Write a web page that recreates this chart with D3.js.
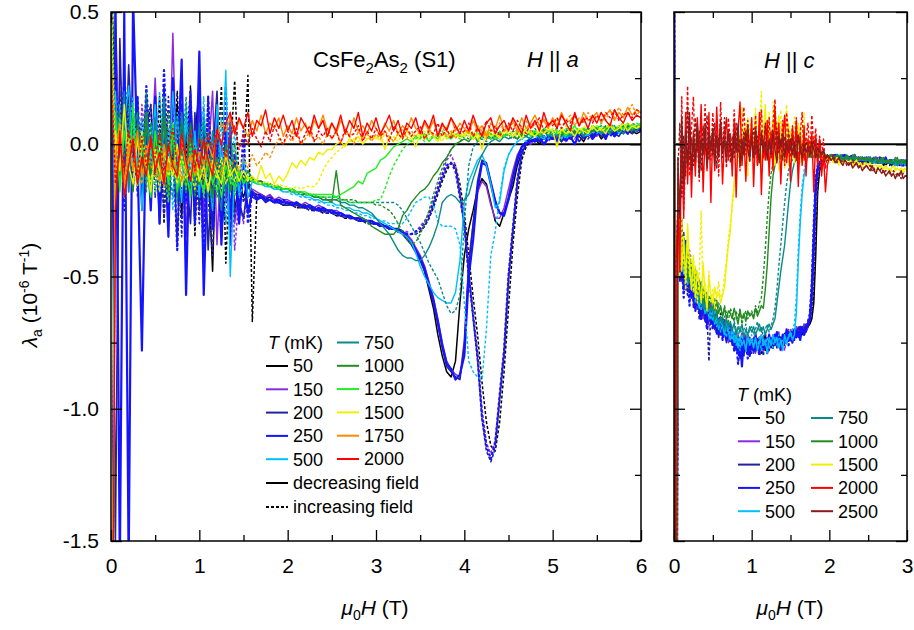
<!DOCTYPE html>
<html><head><meta charset="utf-8">
<script src="https://cdn.jsdelivr.net/npm/d3@7"></script>
<style>
body{margin:0;background:#fff;}
svg text{font-family:"Liberation Sans",Arial,sans-serif;fill:#000;}
</style></head><body>
<svg id="chart" width="914" height="630"></svg>
<script>
// ---------------- DATA ----------------
// lambda_a values in units of 0.01 x 10^-6 T^-1
// H||a panel: sampled every 0.05 T from 0 to 6 T (10 values per row = 0.5 T)
const TEMPS_A = ["50","150","200","250","500","750","1000","1250","1500","1750","2000"];
const TEMPS_C = ["50","150","200","250","500","750","1000","1500","2000","2500"];
const STEP_A = 0.05;
const STEP_C = 0.025;
const X_TICKS_A = [0,1,2,3,4,5,6];
const X_MINOR_A = [0.5,1.5,2.5,3.5,4.5,5.5];
const X_TICKS_C = [0,1,2,3];
const X_MINOR_C = [0.5,1.5,2.5];
const Y_TICKS = [-1.5,-1.0,-0.5,0.0,0.5];
const Y_TICK_LABELS = ["-1.5","-1.0","-0.5","0.0","0.5"];
const Y_MINOR = [-1.25,-0.75,-0.25,0.25];

const a50d = [
80,-20,15,-5,20,-15,8,-12,18,-8,
5,-20,12,-15,-5,15,-28,8,-18,2,
22,-15,-8,-48,10,-35,-12,5,-25,-15,
-20,-14,-18,-19,-19,-20,-20,-21,-21,-22,
-22,-22,-23,-23,-23,-24,-24,-25,-25,-25,
-25,-26,-26,-27,-27,-28,-28,-28,-29,-29,
-30,-30,-31,-31,-32,-32,-33,-35,-37,-40,
-43,-48,-55,-62,-72,-80,-86,-88,-82,-60,
-42,-32,-25,-17,-13,-15,-22,-29,-31,-26,
-21,-16,-8,-3,0,1,2,0,3,2,
2,4,1,3,2,4,3,1,4,3,
5,2,4,6,3,5,4,6,5,4,
5];
const a50i = [
90,-25,10,-15,20,-5,12,-22,5,15,
-12,18,-30,5,-8,20,-20,-5,22,-35,
10,-25,18,-30,-10,22,-45,-5,24,-15,
-10,26,-67,-20,-20,-21,-21,-22,-22,-23,
-23,-23,-24,-24,-24,-25,-25,-25,-26,-26,
-26,-27,-27,-28,-28,-28,-29,-29,-30,-30,
-30,-31,-31,-32,-32,-33,-33,-34,-34,-34,
-33,-31,-28,-24,-19,-14,-10,-7,-8,-15,
-26,-42,-58,-72,-90,-105,-114,-116,-105,-86,
-62,-38,-20,-6,-1,1,2,1,2,3,
2,3,4,2,3,4,3,5,3,4,
5,4,6,5,4,6,5,6,5,6,
6];
const a150d = [
-300,50,-10,22,-18,12,5,-20,15,-10,
25,-15,6,-25,42,-20,10,-35,5,-22,
15,-28,-5,20,-38,0,-22,10,-30,-18,
-12,-20,-17,-18,-19,-20,-19,-21,-20,-21,
-21,-22,-22,-23,-22,-23,-24,-23,-24,-25,
-25,-25,-26,-27,-27,-28,-28,-28,-29,-29,
-30,-30,-31,-31,-32,-32,-33,-34,-36,-39,
-42,-46,-52,-58,-66,-75,-82,-85,-87,-88,
-74,-44,-30,-18,-14,-16,-23,-28,-28,-24,
-17,-10,-4,-1,1,0,2,1,3,2,
3,2,4,1,3,3,5,2,4,4,
3,6,4,5,3,6,5,7,4,6,
6];
const a150i = [
-300,18,-8,26,-12,10,-20,15,0,-18,
20,-10,5,-30,14,-18,8,-25,18,-10,
-5,-32,12,-22,0,-28,-8,12,-40,-20,
-30,-15,-18,-19,-20,-20,-21,-21,-22,-22,
-22,-23,-23,-24,-23,-24,-25,-25,-25,-26,
-26,-26,-27,-27,-28,-28,-29,-29,-29,-30,
-30,-30,-31,-31,-32,-32,-33,-33,-34,-33,
-31,-29,-26,-21,-16,-11,-6,-4,-8,-18,
-30,-48,-64,-80,-100,-113,-117,-112,-94,-77,
-49,-31,-13,-3,0,1,1,2,3,1,
3,4,2,3,4,2,5,3,4,5,
4,5,6,4,5,7,5,6,4,6,
7];
const a200d = [
60,-150,40,-20,30,-10,18,-25,8,-15,
10,-30,22,-20,5,-38,15,-10,-30,12,
-25,8,-40,-5,20,-30,-8,-35,-12,-22,
-28,-15,-20,-21,-20,-22,-21,-22,-22,-23,
-23,-22,-23,-24,-23,-24,-25,-24,-25,-25,
-26,-26,-27,-27,-28,-28,-29,-29,-29,-30,
-30,-31,-31,-32,-32,-33,-34,-36,-38,-41,
-44,-48,-54,-60,-68,-77,-84,-86,-88,-89,
-76,-46,-30,-14,-6,-7,-14,-21,-26,-26,
-20,-12,-5,-1,0,2,1,2,0,3,
2,3,1,4,2,4,1,3,4,3,
5,3,4,6,4,3,6,5,4,6,
5];
const a200i = [
70,-15,20,-25,12,0,-18,10,-8,15,
-20,8,-28,18,-12,5,-35,12,-15,-2,
-30,14,-20,-42,8,-18,-30,2,-28,-12,
-22,-16,-19,-20,-20,-21,-21,-22,-22,-23,
-22,-23,-24,-23,-24,-25,-24,-25,-26,-25,
-26,-27,-27,-28,-27,-28,-29,-29,-30,-30,
-30,-31,-31,-32,-32,-33,-33,-34,-34,-34,
-33,-31,-28,-23,-18,-13,-9,-7,-9,-19,
-31,-49,-66,-82,-104,-116,-120,-115,-97,-80,
-52,-33,-15,-4,0,1,2,1,2,3,
3,2,4,2,3,5,3,4,2,4,
4,6,3,5,4,6,5,4,6,5,
6];
const a250d = [
-300,55,-160,50,-160,55,-5,-78,12,-25,
18,-30,8,-35,25,-12,32,-57,15,-28,
35,-57,2,-32,12,-38,6,-28,-4,-30,
-8,-26,-18,-21,-20,-21,-21,-22,-21,-22,
-22,-23,-22,-23,-24,-23,-24,-25,-24,-25,
-25,-26,-26,-27,-27,-28,-28,-29,-29,-29,
-30,-30,-31,-31,-32,-32,-33,-35,-37,-40,
-43,-47,-53,-59,-67,-76,-83,-85,-89,-87,
-80,-50,-36,-17,-7,-8,-15,-22,-26,-27,
-21,-13,-6,-1,1,2,1,3,0,2,
3,1,4,2,3,0,4,3,5,2,
4,5,2,6,3,5,6,4,7,5,
6];
const a250i = [
-300,28,-12,25,5,-15,18,-20,22,-5,
12,-25,28,-10,3,-40,15,-22,20,-30,
8,-45,18,-20,5,-35,22,-38,-10,-25,
5,-30,-18,-20,-19,-21,-20,-21,-22,-21,
-22,-23,-22,-23,-24,-24,-25,-24,-25,-26,
-26,-26,-27,-27,-28,-28,-28,-29,-29,-30,
-30,-31,-31,-32,-32,-33,-33,-34,-34,-33,
-32,-30,-27,-22,-17,-12,-8,-7,-10,-20,
-30,-50,-65,-80,-103,-114,-119,-113,-95,-78,
-50,-32,-14,-3,0,1,2,1,3,2,
2,4,3,1,4,3,5,2,4,3,
5,4,6,3,5,6,4,7,5,6,
6];
const a500d = [
-300,20,-15,8,22,-10,5,-25,12,-5,
15,-18,8,-12,20,-5,-22,10,-15,5,
-20,12,-8,-25,15,-10,28,-50,-8,-18,
-5,-20,-14,-15,-15,-16,-16,-17,-17,-18,
-18,-18,-19,-19,-20,-20,-21,-21,-22,-22,
-22,-23,-23,-24,-24,-25,-25,-26,-26,-27,
-28,-29,-30,-31,-32,-33,-34,-35,-37,-41,
-46,-50,-53,-56,-58,-59,-60,-60,-56,-44,
-22,-14,-10,-6,-4,-8,-15,-24,-22,-10,
-4,-1,1,2,3,2,4,3,2,4,
3,4,2,5,3,4,5,3,4,6,
5,4,6,5,7,4,6,5,7,6,
7];
const a500i = [
50,-10,15,-20,5,18,-8,10,-15,8,
-5,20,-12,6,-25,12,-8,15,-20,2,
-10,18,-22,5,-15,10,-30,-12,5,-20,
-15,-10,-14,-15,-15,-16,-16,-17,-17,-18,
-18,-19,-19,-20,-20,-21,-21,-22,-22,-23,
-23,-24,-24,-25,-25,-26,-26,-27,-27,-28,
-28,-29,-29,-30,-30,-30,-30,-28,-25,-22,
-21,-20,-20,-23,-29,-31,-31,-31,-32,-38,
-60,-82,-86,-88,-89,-70,-42,-33,-20,-9,
-4,-1,1,2,1,3,2,4,3,2,
4,3,5,2,4,3,5,4,3,5,
4,6,5,4,6,5,7,5,6,6,
7];
const a750d = [
-300,15,-10,20,-18,5,12,-15,8,-20,
10,-8,18,-15,5,-22,12,-10,2,-18,
8,-12,-20,5,-15,-25,0,-18,-10,-14,
-12,-15,-13,-14,-14,-15,-15,-16,-16,-17,
-17,-17,-18,-18,-19,-19,-20,-20,-21,-21,
-21,-21,-22,-22,-23,-23,-24,-24,-25,-26,
-28,-30,-32,-34,-37,-40,-42,-43,-43,-44,
-44,-42,-39,-35,-30,-22,-20,-19,-20,-22,
-21,-19,-13,-8,-4,-1,1,2,1,3,
2,3,2,4,3,2,4,3,5,3,
4,3,5,4,3,5,4,6,4,5,
6,4,5,7,5,6,4,7,6,5,
7];
const a750i = [
40,-20,10,-5,15,-18,8,-10,20,-12,
5,-15,12,-8,-20,10,-5,18,-12,-2,
-15,10,-8,-22,5,-12,-18,8,-20,-10,
-15,-12,-14,-14,-15,-15,-16,-16,-17,-17,
-17,-18,-18,-18,-19,-19,-19,-20,-20,-20,
-20,-20,-21,-21,-22,-22,-22,-22,-22,-22,
-22,-22,-22,-22,-22,-23,-25,-28,-31,-34,
-37,-41,-45,-48,-51,-56,-61,-64,-63,-57,
-30,-8,-1,1,2,1,3,2,3,4,
3,2,4,3,5,3,4,2,4,5,
3,5,4,6,3,5,4,5,6,4,
6,5,4,6,7,5,6,5,7,6,
7];
const a1000d = [
-300,10,-12,15,-5,-18,8,-10,12,-15,
0,-8,10,-20,5,-12,-2,-18,8,-10,
-15,2,-10,-20,-5,-14,0,-18,-8,-12,
-14,-10,-13,-14,-14,-15,-15,-16,-16,-17,
-17,-17,-18,-18,-19,-19,-20,-20,-21,-21,
-22,-10,-23,-24,-25,-26,-27,-28,-29,-31,
-32,-33,-34,-34,-34,-32,-27,-25,-22,-20,
-18,-17,-15,-12,-10,-7,-5,-2,0,1,
2,1,3,2,3,4,2,3,4,3,
4,3,2,4,3,5,4,3,5,4,
5,4,3,5,6,4,5,3,6,5,
6,5,7,4,6,5,7,6,5,7,
7];
const a1000i = [
60,-8,12,-15,5,10,-12,3,-18,8,
-10,5,-15,12,-5,-18,8,-12,2,-20,
-8,-15,5,-12,-20,-6,-10,-16,0,-14,
-12,-13,-13,-14,-14,-15,-15,-16,-16,-17,
-17,-18,-18,-19,-19,-19,-20,-20,-20,-21,
-21,-21,-21,-21,-21,-21,-22,-22,-22,-22,
-23,-23,-24,-25,-27,-30,-33,-36,-38,-37,
-34,-30,-25,-19,-14,-9,-5,-2,0,1,
3,2,4,1,3,2,4,3,2,4,
3,5,4,3,5,4,6,3,5,4,
5,6,4,5,7,5,4,6,5,7,
6,7,5,8,6,7,6,5,8,7,
7];
const a1250d = [
-300,12,-18,5,-10,15,-15,0,-8,-20,
5,-12,-3,-15,8,-18,-6,-10,-20,-4,
-12,-18,-6,-15,-10,-20,-8,-14,-16,-10,
-15,-12,-14,-14,-15,-15,-15,-16,-16,-17,
-17,-17,-18,-18,-18,-19,-19,-19,-19,-19,
-19,-20,-19,-18,-17,-16,-14,-15,-11,-10,
-9,-6,-5,-3,-1,0,1,2,1,3,
2,4,1,3,2,4,3,2,4,3,
3,5,2,4,3,5,4,2,5,3,
4,3,5,4,6,3,5,4,6,5,
5,4,6,3,5,7,4,6,5,6,
7,5,6,8,5,7,6,8,6,7,
8];
const a1250i = [
70,-5,10,-20,0,8,-15,5,-12,-3,
-18,2,-10,-22,6,-14,-5,-17,0,-12,
-8,-20,-4,-13,-18,-9,-15,-6,-19,-11,
-14,-13,-14,-15,-15,-15,-16,-16,-17,-17,
-17,-18,-18,-18,-19,-19,-19,-20,-20,-20,
-20,-20,-21,-21,-22,-22,-22,-22,-22,-22,
-21,-21,-17,-12,-8,-5,-2,0,1,2,
3,1,4,2,3,5,2,4,3,2,
4,3,2,5,3,4,2,5,4,3,
5,4,3,5,6,4,5,3,6,4,
6,5,4,6,5,7,5,6,4,7,
6,8,5,7,6,7,8,6,7,8,
7];
const a1500d = [
-300,5,-10,15,-8,-15,2,-12,-5,-18,
-2,-10,-15,-5,-12,0,-16,-8,-12,-3,
-14,-8,-18,-6,-11,-15,-4,-12,-9,-14,
-10,-13,-12,-14,-8,-13,-11,-15,-12,-14,
-11,-7,-9,-6,-8,-5,-6,-3,-4,-2,
-2,0,1,-1,2,1,3,0,2,3,
2,4,-2,3,1,4,2,5,3,-1,
4,2,5,3,1,4,2,5,3,4,
3,5,2,4,-2,5,3,4,2,5,
4,3,5,2,6,4,3,5,4,6,
5,-1,6,4,5,3,6,5,4,7,
5,6,4,7,5,6,8,5,7,6,
7];
const a1500i = [
60,-12,8,-18,2,-10,-16,5,-8,-14,
-6,-18,-2,-12,-8,-15,-4,-13,-10,-17,
-7,-12,-16,-9,-13,-5,-15,-10,-14,-8,
-12,-14,-13,-14,-15,-14,-15,-16,-15,-16,
-16,-17,-16,-17,-16,-16,-16,-14,-10,-7,
-5,-3,-2,0,1,2,1,3,2,2,
3,1,4,2,3,1,4,3,2,4,
3,5,2,4,3,1,5,3,4,2,
4,3,5,2,4,3,5,4,3,5,
5,4,3,6,4,5,3,6,5,4,
6,4,5,7,5,6,4,7,5,6,
7,5,6,8,6,7,5,8,7,6,
8];
const a1750d = [
-300,-5,8,-15,0,-10,5,-12,-3,2,
-8,-14,0,-10,-6,-13,2,-9,-4,-11,
-3,-8,0,-5,3,8,5,10,4,9,
6,3,9,5,11,4,8,6,10,3,
7,4,10,5,8,3,9,6,11,5,
8,4,9,6,3,10,5,7,4,9,
6,3,8,5,9,4,7,5,10,6,
4,8,5,9,3,7,6,10,5,8,
6,4,9,5,7,3,8,6,11,5,
7,9,5,10,6,8,11,7,9,6,
10,7,12,8,9,11,7,12,9,10,
12,8,11,13,9,12,10,14,11,13,
12];
const a1750i = [
40,-12,5,-18,-5,3,-10,-15,0,-8,
-12,-4,-16,-7,-10,-2,-14,-9,-5,-12,
-8,-13,-4,-10,-7,-12,-3,-9,-6,-10,
-5,-9,-4,-8,-6,-3,-5,-1,2,0,
3,1,4,0,2,5,1,3,0,4,
2,5,1,4,3,0,5,2,4,1,
4,2,5,3,1,4,6,2,5,3,
5,2,6,3,4,7,3,5,2,6,
4,6,3,7,5,2,6,4,8,5,
6,8,4,7,9,5,8,6,10,7,
8,10,6,9,11,7,10,8,12,9,
10,12,9,13,10,14,11,12,15,11,
13];
const a2000d = [
-300,-25,5,-20,-8,2,-15,-5,-12,3,
-10,-3,-15,0,-8,-12,4,-6,-14,-2,
-9,2,-6,-12,5,0,8,12,4,10,
6,12,3,9,7,13,4,10,6,11,
5,9,3,10,7,4,11,6,9,3,
8,5,11,4,9,6,12,3,8,5,
10,4,7,11,5,9,3,8,6,10,
4,9,6,11,3,8,5,10,7,4,
9,5,11,6,3,8,10,4,7,9,
5,10,7,4,11,6,9,5,12,7,
9,6,11,8,5,12,7,10,6,11,
8,12,9,7,13,10,8,12,9,11,
10];
const a2000i = [
30,-15,0,-10,5,-5,-12,3,-8,0,
-5,4,-10,-2,6,-8,0,-4,5,-10,
2,-6,4,-3,6,0,-5,3,7,-2,
4,0,6,2,-1,5,1,7,3,0,
5,2,6,0,4,7,1,5,3,6,
2,5,0,6,3,4,7,1,5,2,
6,3,5,1,7,4,2,6,3,5,
7,2,5,4,8,3,6,2,7,4,
5,8,3,6,4,9,5,7,3,6,
8,5,9,6,4,8,7,10,5,8,
7,10,6,9,8,11,7,9,10,8,
11,9,12,10,13,9,11,12,10,13,
12];

// H||c panel: sampled every 0.025 T from 0 to 3 T (10 values per row = 0.25 T)
const c50d = [
100,-300,-36,-44,-50,-40,-53,-47,-56,-50,
-58,-54,-61,-57,-63,-59,-65,-61,-66,-63,
-67,-65,-69,-66,-71,-68,-72,-70,-73,-71,
-74,-72,-76,-73,-75,-78,-73,-77,-75,-79,
-76,-74,-78,-75,-77,-74,-76,-78,-75,-77,
-74,-76,-73,-75,-72,-74,-73,-75,-72,-74,
-73,-71,-73,-70,-72,-71,-72,-70,-71,-69,
-68,-66,-60,-42,-18,-10,-8,-7,-6,-6,
-6,-5,-6,-6,-5,-6,-6,-5,-6,-6,
-6,-6,-5,-6,-7,-6,-6,-7,-6,-6,
-7,-6,-7,-7,-6,-7,-7,-6,-7,-8,
-7,-7,-8,-7,-7,-8,-7,-8,-8,-7,
-8];
const c50i = [
100,-300,-42,-35,-52,-44,-38,-57,-46,-53,
-55,-60,-52,-64,-58,-62,-56,-66,-60,-64,
-63,-68,-65,-70,-64,-72,-68,-70,-74,-69,
-72,-75,-70,-77,-73,-76,-80,-74,-77,-73,
-78,-75,-73,-77,-74,-79,-75,-72,-77,-76,
-73,-77,-74,-72,-76,-73,-75,-71,-74,-73,
-71,-74,-70,-72,-69,-72,-70,-71,-68,-69,
-67,-64,-56,-35,-15,-9,-7,-6,-6,-5,
-5,-6,-5,-5,-6,-5,-6,-6,-5,-6,
-6,-5,-6,-6,-5,-7,-6,-6,-7,-6,
-6,-7,-6,-7,-7,-6,-7,-7,-8,-7,
-7,-8,-7,-7,-8,-7,-8,-7,-8,-8,
-8];
const c150d = [
100,-300,-28,-45,-38,-50,-43,-48,-55,-47,
-60,-52,-58,-63,-55,-66,-60,-62,-67,-60,
-69,-64,-67,-71,-66,-73,-68,-70,-75,-68,
-72,-77,-71,-75,-80,-73,-76,-72,-78,-74,
-77,-73,-79,-74,-76,-72,-78,-75,-73,-77,
-75,-72,-76,-74,-71,-78,-73,-75,-72,-70,
-74,-71,-73,-69,-72,-70,-71,-68,-70,-67,
-65,-58,-38,-16,-9,-7,-6,-6,-5,-5,
-5,-5,-6,-5,-4,-6,-5,-6,-5,-5,
-6,-5,-5,-6,-6,-5,-7,-6,-5,-6,
-6,-6,-7,-5,-7,-6,-6,-7,-6,-7,
-7,-6,-7,-8,-6,-7,-7,-8,-7,-7,
-7];
const c150i = [
100,-300,-40,-30,-48,-36,-52,-45,-40,-56,
-50,-57,-63,-54,-60,-65,-58,-62,-69,-61,
-66,-70,-63,-68,-72,-66,-70,-67,-73,-71,
-70,-74,-78,-72,-75,-71,-77,-74,-79,-73,
-75,-78,-74,-76,-73,-77,-79,-74,-76,-73,
-76,-74,-72,-75,-77,-73,-74,-78,-72,-74,
-70,-73,-71,-72,-69,-71,-70,-68,-71,-69,
-66,-62,-48,-26,-12,-8,-7,-6,-5,-5,
-6,-5,-5,-6,-4,-5,-6,-5,-5,-6,
-5,-6,-5,-7,-6,-5,-6,-6,-5,-7,
-6,-7,-6,-6,-7,-5,-7,-6,-7,-6,
-7,-7,-6,-8,-7,-7,-6,-8,-7,-8,
-7];
const c200d = [
100,-300,-33,-50,-42,-37,-55,-46,-51,-58,
-52,-60,-56,-64,-58,-61,-67,-59,-64,-68,
-65,-70,-67,-73,-68,-71,-69,-75,-70,-72,
-76,-72,-78,-74,-81,-73,-77,-75,-79,-76,
-74,-79,-75,-77,-73,-78,-76,-74,-78,-75,
-77,-74,-76,-72,-75,-73,-76,-72,-74,-71,
-73,-70,-72,-71,-73,-69,-71,-70,-68,-69,
-66,-56,-36,-15,-9,-7,-6,-5,-5,-5,
-5,-5,-4,-6,-5,-5,-6,-4,-5,-6,
-6,-5,-5,-6,-5,-6,-6,-5,-7,-6,
-6,-7,-6,-5,-6,-7,-6,-7,-6,-6,
-7,-6,-7,-7,-8,-6,-7,-7,-8,-6,
-7];
const c200i = [
100,-300,-45,-38,-52,-33,-48,-57,-42,-50,
-62,-55,-58,-66,-60,-63,-57,-65,-82,-62,
-67,-69,-64,-71,-68,-73,-66,-70,-72,-68,
-74,-71,-77,-73,-76,-80,-72,-78,-74,-77,
-79,-74,-77,-73,-78,-75,-80,-74,-76,-78,
-73,-76,-74,-77,-72,-75,-73,-76,-71,-73,
-72,-74,-70,-72,-69,-73,-70,-71,-69,-68,
-67,-60,-42,-20,-10,-7,-6,-6,-5,-5,
-5,-6,-5,-4,-5,-6,-5,-5,-6,-5,
-5,-6,-6,-5,-6,-5,-6,-7,-6,-5,
-6,-6,-7,-6,-6,-7,-5,-6,-7,-7,
-6,-7,-8,-7,-6,-7,-8,-7,-7,-8,
-7];
const c250d = [
100,-300,-30,-48,-35,-55,-40,-52,-45,-58,
-50,-62,-55,-60,-66,-57,-63,-68,-61,-65,
-68,-64,-70,-67,-72,-66,-71,-74,-69,-73,
-71,-76,-73,-79,-74,-84,-72,-77,-75,-80,
-74,-78,-72,-76,-79,-73,-77,-75,-78,-72,
-76,-73,-75,-71,-74,-77,-72,-75,-70,-74,
-72,-75,-70,-73,-71,-74,-69,-72,-70,-68,
-66,-55,-35,-15,-9,-7,-6,-6,-5,-5,
-5,-4,-5,-6,-4,-5,-6,-5,-4,-6,
-5,-6,-5,-4,-6,-5,-7,-5,-6,-5,
-6,-5,-7,-6,-5,-7,-6,-6,-7,-5,
-7,-6,-6,-8,-6,-7,-7,-6,-8,-7,
-7];
const c250i = [
100,-300,-38,-52,-44,-58,-36,-50,-61,-47,
-55,-63,-58,-52,-66,-60,-64,-70,-59,-66,
-70,-66,-72,-68,-65,-74,-70,-73,-68,-75,
-72,-78,-74,-83,-76,-73,-79,-75,-81,-74,
-77,-73,-78,-76,-80,-74,-77,-72,-79,-75,
-74,-77,-72,-76,-74,-78,-73,-75,-72,-76,
-73,-71,-74,-70,-72,-69,-71,-72,-69,-67,
-64,-52,-30,-13,-8,-7,-6,-5,-5,-5,
-4,-5,-5,-4,-6,-5,-4,-5,-6,-5,
-5,-4,-6,-5,-5,-6,-5,-6,-5,-6,
-5,-6,-6,-5,-7,-6,-5,-7,-6,-6,
-6,-7,-7,-6,-7,-6,-8,-7,-6,-7,
-7];
const c500d = [
100,-300,-30,-42,-36,-49,-40,-53,-46,-50,
-55,-49,-58,-62,-54,-60,-64,-57,-62,-66,
-63,-68,-65,-70,-66,-69,-72,-67,-71,-74,
-70,-75,-72,-77,-73,-76,-74,-78,-72,-76,
-74,-77,-73,-78,-75,-72,-76,-74,-79,-73,
-76,-72,-75,-73,-77,-74,-78,-72,-75,-73,
-71,-74,-72,-64,-45,-30,-19,-12,-7,-4,
-3,-2,-3,-2,-3,-4,-3,-4,-4,-5,
-5,-4,-5,-5,-4,-6,-5,-5,-6,-5,
-5,-6,-5,-5,-6,-6,-5,-6,-6,-5,
-6,-5,-6,-7,-6,-6,-7,-6,-6,-7,
-6,-7,-7,-6,-7,-8,-7,-7,-6,-8,
-7];
const c500i = [
100,-300,-38,-30,-46,-40,-52,-44,-49,-55,
-48,-60,-53,-57,-63,-56,-61,-59,-66,-62,
-67,-63,-69,-66,-71,-68,-70,-73,-68,-72,
-74,-71,-76,-73,-78,-72,-75,-77,-73,-75,
-72,-76,-74,-77,-73,-78,-74,-76,-73,-77,
-74,-77,-73,-76,-72,-75,-74,-73,-76,-72,
-73,-70,-68,-58,-40,-26,-16,-10,-6,-4,
-3,-4,-3,-2,-4,-3,-4,-5,-4,-5,
-5,-4,-5,-6,-5,-4,-5,-6,-5,-5,
-6,-5,-5,-6,-5,-6,-6,-5,-6,-6,
-5,-6,-7,-6,-6,-7,-6,-7,-6,-7,
-7,-6,-7,-7,-8,-6,-7,-8,-7,-7,
-7];
const c750d = [
100,-300,-35,-28,-45,-38,-50,-42,-47,-55,
-50,-57,-53,-60,-56,-62,-58,-64,-60,-63,
-62,-66,-64,-68,-65,-67,-70,-66,-69,-67,
-70,-68,-72,-69,-71,-68,-73,-70,-72,-69,
-71,-69,-72,-70,-68,-71,-69,-72,-70,-68,
-70,-68,-66,-60,-54,-48,-43,-38,-30,-22,
-15,-10,-7,-6,-5,-5,-4,-5,-4,-4,
-4,-5,-4,-5,-4,-5,-5,-4,-5,-5,
-5,-4,-5,-6,-5,-5,-4,-6,-5,-5,
-6,-5,-5,-6,-6,-5,-6,-5,-6,-6,
-6,-7,-6,-6,-5,-7,-6,-6,-7,-6,
-7,-6,-7,-7,-6,-8,-7,-6,-7,-7,
-7];
const c750i = [
100,-300,-40,-32,-48,-36,-44,-52,-45,-50,
-56,-52,-59,-55,-61,-57,-63,-59,-62,-65,
-64,-67,-63,-69,-66,-68,-65,-70,-67,-69,
-71,-67,-70,-73,-69,-72,-70,-68,-73,-70,
-69,-72,-70,-67,-71,-69,-73,-70,-68,-71,
-69,-66,-62,-55,-46,-38,-30,-22,-15,-10,
-7,-6,-5,-5,-4,-5,-4,-4,-5,-4,
-5,-4,-5,-4,-5,-5,-4,-5,-6,-5,
-5,-6,-5,-5,-4,-6,-5,-6,-5,-6,
-5,-6,-6,-5,-7,-6,-5,-6,-6,-7,
-6,-6,-7,-6,-7,-6,-6,-7,-7,-6,
-7,-7,-6,-8,-7,-7,-8,-6,-7,-8,
-7];
const c1000d = [
100,-300,-32,-40,-28,-46,-38,-51,-44,-48,
-53,-47,-56,-51,-58,-54,-60,-56,-62,-58,
-60,-63,-59,-64,-61,-65,-62,-66,-63,-64,
-66,-62,-65,-68,-63,-66,-64,-67,-63,-65,
-64,-66,-62,-65,-63,-61,-62,-55,-46,-33,
-20,-12,-8,-6,-5,-4,-5,-3,-4,-3,
-4,-3,-4,-5,-3,-4,-5,-4,-3,-5,
-4,-5,-4,-3,-5,-4,-5,-4,-5,-4,
-5,-4,-5,-6,-4,-5,-5,-6,-5,-4,
-5,-6,-5,-4,-6,-5,-6,-5,-6,-5,
-6,-5,-6,-6,-5,-7,-6,-5,-6,-7,
-6,-7,-6,-7,-6,-5,-7,-6,-7,-6,
-6];
const c1000i = [
100,-300,-36,-29,-44,-35,-49,-40,-53,-45,
-50,-55,-48,-57,-52,-59,-55,-61,-57,-60,
-62,-58,-65,-60,-63,-66,-61,-64,-67,-62,
-64,-67,-63,-66,-62,-68,-65,-63,-66,-64,
-63,-65,-61,-64,-60,-58,-50,-40,-28,-18,
-11,-7,-5,8,-4,-6,5,-4,-5,-3,
-4,-5,-3,-4,-6,-3,-4,-5,-4,-3,
-5,-4,-3,-5,-4,-5,-3,-4,-5,-4,
-4,-5,-5,-4,-6,-5,-4,-5,-6,-5,
-6,-5,-4,-6,-5,-6,-5,-6,-5,-6,
-5,-6,-7,-5,-6,-6,-7,-6,-5,-6,
-7,-6,-6,-7,-5,-7,-6,-7,-6,-7,
-6];
const c1500d = [
100,-300,-40,-25,-48,-35,-52,-30,-45,-55,
-42,-58,-48,-53,-60,-45,-56,-62,-50,-57,
-60,-54,-58,-56,-60,-57,-54,-46,-38,-33,
-22,-14,-9,-5,3,-8,6,-2,10,-4,
5,-6,12,-3,8,-10,4,15,-2,6,
-5,9,-8,3,11,-4,7,-9,2,8,
-3,6,-7,4,-2,7,-5,3,-4,2,
-2,3,-4,1,-3,-1,-5,-4,-6,-5,
-6,-5,-7,-6,-5,-7,-6,-7,-6,-7,
-7,-6,-8,-7,-6,-8,-7,-8,-7,-8,
-8,-7,-9,-8,-8,-9,-8,-9,-9,-8,
-9,-10,-9,-8,-10,-9,-10,-9,-10,-9,
-10];
const c1500i = [
100,-300,-35,-50,-28,-44,-55,-38,-50,-42,
-56,-46,-60,-50,-25,-58,-52,-63,-48,-60,
-55,-62,-57,-52,-59,-56,-50,-44,-36,-30,
-24,-16,-10,2,-6,14,-4,8,-12,5,
10,-5,14,-8,4,20,-6,9,-3,12,
-6,16,-2,7,-10,13,-4,6,15,-8,
5,-6,11,-3,8,-7,4,12,-5,2,
-4,5,-3,2,-6,-2,-5,-6,-5,-6,
-7,-6,-5,-7,-6,-8,-6,-7,-7,-6,
-8,-7,-7,-8,-6,-8,-7,-9,-8,-7,
-9,-8,-8,-9,-10,-8,-9,-8,-10,-9,
-10,-9,-10,-11,-9,-10,-10,-9,-11,-10,
-10];
const c2000d = [
-300,-45,-25,-48,5,-28,12,-15,8,-20,
5,-12,10,-5,15,-18,3,-8,12,-22,
6,-10,14,-4,8,-15,2,10,-6,4,
-12,9,-20,5,16,-8,3,-14,7,-4,
10,-16,4,-8,12,-19,2,-6,9,-12,
5,-10,14,-4,8,-15,3,11,-7,2,
-14,6,-5,9,-16,3,-8,7,-12,2,
-5,4,-18,3,-8,2,-12,-4,-18,-8,
-5];
const c2000i = [
-300,-50,-20,-35,18,-25,-5,22,-12,6,
18,-8,4,-14,9,-3,15,-10,2,-6,
12,-5,8,-12,16,-3,6,-9,10,1,
-6,13,-2,8,-10,5,14,-4,9,-7,
6,-3,11,-8,4,13,-5,7,-2,10,
-4,8,17,-6,5,-2,9,-8,12,3,
-5,7,-3,10,-9,4,12,-6,2,8,
-4,11,-2,6,-8,3,-5,2,-9,-4,
-6];
const c2500d = [
100,-300,-5,-28,10,-15,5,-8,12,-10,
3,-6,8,-12,2,-4,7,-9,4,-2,
6,-8,3,-5,9,-3,2,-7,5,-1,
-6,4,-3,7,-8,2,-4,5,-2,-6,
3,-5,6,-2,-7,4,-3,1,-6,2,
-4,5,-2,-7,3,-1,4,-5,1,-3,
2,-4,1,-6,3,-2,-5,0,-3,-1,
-4,1,-2,-5,-1,-3,-4,-2,-5,-4,
-5,-6,-5,-7,-6,-5,-7,-8,-6,-7,
-8,-7,-9,-8,-7,-9,-8,-10,-9,-8,
-9,-10,-8,-10,-11,-9,-10,-11,-10,-12,
-11,-10,-12,-11,-13,-11,-12,-10,-13,-12,
-12];
const c2500i = [
100,-300,-10,8,-20,3,-12,14,-6,2,
-8,10,-3,5,-10,7,-2,11,-6,3,
-4,8,-9,2,6,-5,10,-2,4,-7,
3,-5,8,-3,2,-6,5,-1,7,-4,
2,6,-4,3,-7,5,-2,8,-3,1,
-5,4,-1,6,-3,2,-6,3,-2,5,
-2,3,-5,1,4,-3,0,-4,2,-3,
-1,-4,2,-3,-5,-2,-4,-3,-6,-4,
-5,-6,-4,-6,-7,-5,-6,-7,-6,-8,
-7,-8,-6,-8,-7,-9,-8,-7,-9,-8,
-9,-8,-10,-9,-11,-9,-10,-9,-11,-10,
-10,-11,-12,-10,-11,-12,-11,-13,-11,-12,
-12];

// legend contents
const LEG_A_COL1 = ["50","150","200","250","500"];
const LEG_A_COL2 = ["750","1000","1250","1500","1750","2000"];
const LEG_C_COL1 = ["50","150","200","250","500"];
const LEG_C_COL2 = ["750","1000","1500","2000","2500"];

// series tables built from the arrays
const SERIES_A = [
  ["50",a50i,a50d],["150",a150i,a150d],["200",a200i,a200d],["250",a250i,a250d],
  ["500",a500i,a500d],["750",a750i,a750d],["1000",a1000i,a1000d],["1250",a1250i,a1250d],
  ["1500",a1500i,a1500d],["1750",a1750i,a1750d],["2000",a2000i,a2000d]
];
const SERIES_C = [
  ["50",c50i,c50d],["150",c150i,c150d],["200",c200i,c200d],["250",c250i,c250d],
  ["500",c500i,c500d],["750",c750i,c750d],["1000",c1000i,c1000d],
  ["1500",c1500i,c1500d],["2000",c2000i,c2000d],["2500",c2500i,c2500d]
];

// ---------------- STYLE ----------------
const COLORS = {"50":"#000000","150":"#8a2be2","200":"#23239b","250":"#1414ff","500":"#00bfff",
  "750":"#0a8a8a","1000":"#228b22","1250":"#22ee22","1500":"#f0f000","1750":"#ff8a00",
  "2000":"#ff0000","2500":"#8b1a1a"};
const WIDTHS = {"50":1.5,"150":1.5,"200":1.6,"250":2.2};
const FONT = "Liberation Sans, Arial, sans-serif";

// ---------------- DRAW ----------------
const svg = d3.select("#chart");
svg.append("rect").attr("width",914).attr("height",630).attr("fill","#fff");

const yS = d3.scaleLinear().domain([-1.5,0.5]).range([541,12]);
const xA = d3.scaleLinear().domain([0,6]).range([111,641]);
const xC = d3.scaleLinear().domain([0,3]).range([674,907]);

const defs = svg.append("defs");
function clip(id, xS){
  const [x0,x1] = xS.range(), [yb,yt] = yS.range();
  defs.append("clipPath").attr("id",id).append("rect")
    .attr("x",x0).attr("y",yt).attr("width",x1-x0).attr("height",yb-yt);
}
clip("clipA", xA); clip("clipC", xC);

function drawPanel(xS, series, step, clipId){
  const [x0,x1] = xS.range();
  // zero line
  svg.append("line").attr("x1",x0).attr("x2",x1).attr("y1",yS(0)).attr("y2",yS(0))
    .attr("stroke","#000").attr("stroke-width",2);
  const g = svg.append("g").attr("clip-path",`url(#${clipId})`);
  const line = d3.line().x((d,i)=>xS(i*step)).y(d=>yS(d/100));
  series.forEach(([T, inc, dec])=>{
    const w = WIDTHS[T] || 1.4;
    g.append("path").attr("d",line(inc)).attr("fill","none").attr("stroke",COLORS[T])
      .attr("stroke-width",w).attr("stroke-dasharray","3,2").attr("stroke-linejoin","round");
    g.append("path").attr("d",line(dec)).attr("fill","none").attr("stroke",COLORS[T])
      .attr("stroke-width",w).attr("stroke-linejoin","round");
  });
}

function styleAxis(sel){
  sel.attr("font-family",FONT).attr("font-size",21);
  sel.select(".domain").remove();
  sel.selectAll("line").attr("stroke-width",1.3);
  sel.selectAll("text").attr("fill","#000");
}

function drawAxes(xS, xMaj, xMin, yLabels){
  const [x0,x1] = xS.range(), [yb,yt] = yS.range();
  const fmtX = d=>String(d);
  svg.append("g").attr("transform",`translate(0,${yb})`)
    .call(d3.axisBottom(xS).tickValues(xMaj).tickSize(-11).tickPadding(17).tickFormat(fmtX)).call(styleAxis);
  svg.append("g").attr("transform",`translate(0,${yb})`)
    .call(d3.axisBottom(xS).tickValues(xMin).tickSize(-6).tickFormat("")).call(styleAxis);
  svg.append("g").attr("transform",`translate(0,${yt})`)
    .call(d3.axisTop(xS).tickValues(xMaj).tickSize(-11).tickFormat("")).call(styleAxis);
  svg.append("g").attr("transform",`translate(0,${yt})`)
    .call(d3.axisTop(xS).tickValues(xMin).tickSize(-6).tickFormat("")).call(styleAxis);
  svg.append("g").attr("transform",`translate(${x0},0)`)
    .call(d3.axisLeft(yS).tickValues(Y_TICKS).tickSize(-11).tickPadding(12)
      .tickFormat(d=> yLabels ? Y_TICK_LABELS[Y_TICKS.indexOf(d)] : "")).call(styleAxis);
  svg.append("g").attr("transform",`translate(${x0},0)`)
    .call(d3.axisLeft(yS).tickValues(Y_MINOR).tickSize(-6).tickFormat("")).call(styleAxis);
  svg.append("g").attr("transform",`translate(${x1},0)`)
    .call(d3.axisRight(yS).tickValues(Y_TICKS).tickSize(-11).tickFormat("")).call(styleAxis);
  svg.append("g").attr("transform",`translate(${x1},0)`)
    .call(d3.axisRight(yS).tickValues(Y_MINOR).tickSize(-6).tickFormat("")).call(styleAxis);
  svg.append("rect").attr("x",x0).attr("y",yt).attr("width",x1-x0).attr("height",yb-yt)
    .attr("fill","none").attr("stroke","#000").attr("stroke-width",1.5);
}

drawPanel(xA, SERIES_A, STEP_A, "clipA");
drawPanel(xC, SERIES_C, STEP_C, "clipC");
drawAxes(xA, X_TICKS_A, X_MINOR_A, true);
drawAxes(xC, X_TICKS_C, X_MINOR_C, false);

// ---------- texts ----------
function rich(x, y, parts, size, anchor){
  const t = svg.append("text").attr("x",x).attr("y",y).attr("font-size",size)
    .attr("text-anchor",anchor||"start");
  parts.forEach(p=>{
    const s = t.append("tspan").text(p.t);
    if (p.i) s.attr("font-style","italic");
    if (p.fs) s.attr("font-size",p.fs);
    if (p.dy) s.attr("dy",p.dy);
  });
  return t;
}
// titles
rich(313, 67, [{t:"CsFe"},{t:"2",fs:15,dy:6},{t:"As",dy:-6},{t:"2",fs:15,dy:6},{t:" (S1)",dy:-6}], 22);
rich(527, 67, [{t:"H",i:1},{t:" || "},{t:"a",i:1}], 22);
rich(764, 68, [{t:"H",i:1},{t:" || "},{t:"c",i:1}], 22);
// x axis titles
const xTitle = [{t:"μ",i:1},{t:"0",fs:14,dy:5},{t:"H",i:1,dy:-5},{t:" (T)"}];
rich(375, 615, xTitle, 21, "middle");
rich(790, 615, xTitle, 21, "middle");
// y axis title
rich(0, 0, [{t:"λ",i:1},{t:"a",fs:14,dy:5},{t:" (10",dy:-5},{t:"-6",fs:14,dy:-8},{t:" T",dy:8},{t:"-1",fs:14,dy:-8},{t:")",dy:8}], 21, "middle")
  .attr("transform","translate(37,295) rotate(-90)");

// ---------- legends ----------
const ROW = 23.3;
function legItem(x, y, T, dashed, label){
  svg.append("line").attr("x1",x).attr("x2",x+22).attr("y1",y).attr("y2",y)
    .attr("stroke",T?COLORS[T]:"#000").attr("stroke-width",2)
    .attr("stroke-dasharray",dashed?"3,2":null);
  svg.append("text").attr("x",x+27).attr("y",y).attr("dy","0.35em").attr("font-size",18)
    .text(label || T);
}
function legHeader(x, y){
  rich(x, y, [{t:"T",i:1},{t:" (mK)"}], 18).attr("dy","0.35em");
}
// left legend
legHeader(268, 343);
LEG_A_COL1.forEach((T,k)=>legItem(266, 366 + k*ROW, T));
LEG_A_COL2.forEach((T,k)=>legItem(337, 342.5 + k*ROW, T));
legItem(266, 483, null, false, "decreasing field");
legItem(266, 507, null, true, "increasing field");
// right legend
legHeader(737, 395);
LEG_C_COL1.forEach((T,k)=>legItem(738, 418 + k*ROW, T));
LEG_C_COL2.forEach((T,k)=>legItem(811, 418 + k*ROW, T));
</script>
</body></html>
